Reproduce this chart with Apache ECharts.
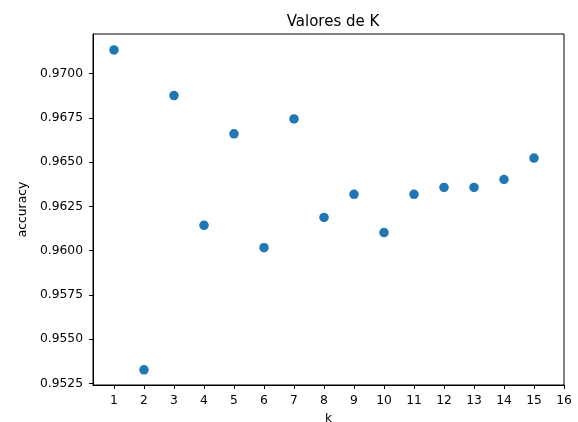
<!DOCTYPE html>
<html><head><meta charset="utf-8">
<script src="https://cdn.jsdelivr.net/npm/echarts@6/dist/echarts.min.js"></script>
<style>html,body{margin:0;padding:0;background:#fff}#c{width:578px;height:422px}</style>
</head><body><div id="c"></div>
<script>
const kValues = [1,2,3,4,5,6,7,8,9,10,11,12,13,14,15];
const accuracy = [0.97134,0.95327,0.96876,0.96143,0.96660,0.96017,0.96744,0.96188,0.96318,0.96102,0.96318,0.96357,0.96357,0.96402,0.96523];
const xTicks = [1,2,3,4,5,6,7,8,9,10,11,12,13,14,15,16];
const yTicks = [0.9525,0.9550,0.9575,0.9600,0.9625,0.9650,0.9675,0.9700];
const titleText = 'Valores de K';
const xName = 'k';
const yName = 'accuracy';

const chart = echarts.init(document.getElementById('c'));
const font = 'DejaVu Sans';
chart.setOption({
  animation: false,
  backgroundColor: '#fff',
  title: { text: titleText, left: 328, textAlign: 'center', top: 10,
    textStyle: { fontFamily: font, fontSize: 15, fontWeight: 'normal', color: '#000' } },
  grid: { left: 93, right: 14, top: 34, bottom: 37, outerBoundsMode: 'none', containLabel: false,
    show: true, borderColor: '#000', borderWidth: 1, backgroundColor: 'transparent' },
  xAxis: {
    type: 'value', min: 0.3, max: 16,
    name: xName, nameLocation: 'middle', nameGap: 28,
    nameTextStyle: { fontFamily: font, fontSize: 12.3, color: '#000' },
    axisLine: { show: true, onZero: false, lineStyle: { color: '#000', width: 1 } },
    axisTick: { show: true, length: 4, lineStyle: { color: '#000' }, customValues: xTicks },
    axisLabel: { fontFamily: font, fontSize: 12.3, color: '#000', margin: 10, customValues: xTicks },
    splitLine: { show: false }
  },
  yAxis: {
    type: 'value', min: 0.95241, max: 0.97224,
    name: yName, nameLocation: 'middle', nameGap: 57,
    nameTextStyle: { fontFamily: font, fontSize: 12.3, color: '#000' },
    axisLine: { show: true, onZero: false, lineStyle: { color: '#000', width: 1 } },
    axisTick: { show: true, length: 4, lineStyle: { color: '#000' }, customValues: yTicks },
    axisLabel: { fontFamily: font, fontSize: 12.3, color: '#000', margin: 10, customValues: yTicks,
      formatter: v => v.toFixed(4) },
    splitLine: { show: false }
  },
  series: [{
    type: 'scatter',
    data: kValues.map((k, i) => [k, accuracy[i]]),
    symbolSize: 9.5,
    itemStyle: { color: '#1f77b4', opacity: 1 }
  }]
});
</script></body></html>
